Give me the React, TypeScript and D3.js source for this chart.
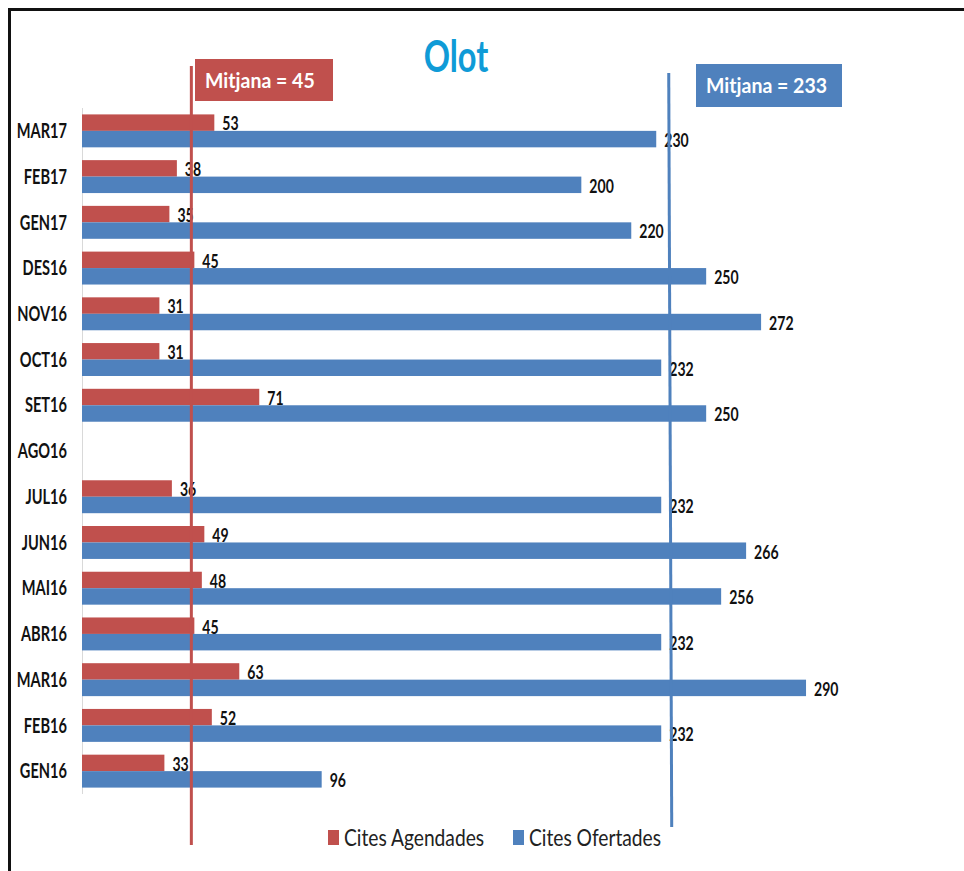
import React, { useEffect, useRef } from 'react';
import * as d3 from 'd3';

const categories = ['MAR17', 'FEB17', 'GEN17', 'DES16', 'NOV16', 'OCT16', 'SET16', 'AGO16', 'JUL16', 'JUN16', 'MAI16', 'ABR16', 'MAR16', 'FEB16', 'GEN16'];
const agendades: (number | null)[] = [53, 38, 35, 45, 31, 31, 71, null, 36, 49, 48, 45, 63, 52, 33];
const ofertades: (number | null)[] = [230, 200, 220, 250, 272, 232, 250, null, 232, 266, 256, 232, 290, 232, 96];
const seriesNames = ['Cites Agendades', 'Cites Ofertades'];
const meanValues = [45, 233];

const RED = '#C0504D';
const BLUE = '#4F81BD';
const FONT = 'Lato, "Open Sans", sans-serif';

const W = 964;
const H = 871;

type Sel = d3.Selection<any, unknown, null, undefined>;

// text squeezed horizontally, the original uses a narrow font
const addText = (
  parent: Sel, x: number, y: number, txt: string,
  opts: { size: number; weight?: number; fill?: string; anchor?: string; sx?: number; dy?: string }
) => {
  return parent.append('text')
    .attr('transform', `translate(${x},${y}) scale(${opts.sx ?? 0.75},1)`)
    .attr('dy', opts.dy ?? '0')
    .attr('text-anchor', opts.anchor ?? 'start')
    .style('font-family', FONT)
    .style('font-weight', opts.weight ?? 700)
    .style('font-size', `${opts.size}px`)
    .style('fill', opts.fill ?? '#111')
    .text(txt);
};

const App: React.FC = () => {
  const svgRef = useRef<SVGSVGElement>(null);

  useEffect(() => {
    if (!svgRef.current) return;
    const svg = d3.select(svgRef.current) as unknown as Sel;
    svg.selectAll('*').remove();

    svg.append('rect').attr('width', W).attr('height', H).attr('fill', '#fff');

    // frame (top + left only, as in the cropped original)
    svg.append('line').attr('x1', 8).attr('x2', W).attr('y1', 9.5).attr('y2', 9.5)
      .attr('stroke', '#111').attr('stroke-width', 3);
    svg.append('line').attr('x1', 9.5).attr('x2', 9.5).attr('y1', 8).attr('y2', H)
      .attr('stroke', '#111').attr('stroke-width', 3);

    const x = d3.scaleLinear().domain([0, 300]).range([82, 831]);
    const y = d3.scaleBand<string>()
      .domain(categories)
      .range([108, 794])
      .paddingInner(0.28)
      .paddingOuter(0.14);
    const half = y.bandwidth() / 2;

    // title
    addText(svg, 456, 72, 'Olot', { size: 44, fill: '#0F9BD7', anchor: 'middle', sx: 0.74 });

    // category axis
    svg.append('line')
      .attr('x1', 82.5).attr('x2', 82.5)
      .attr('y1', 108).attr('y2', 794)
      .attr('stroke', '#D9D9D9').attr('stroke-width', 1);

    const catG = svg.append('g');
    categories.forEach(c => {
      addText(catG, 67, (y(c) || 0) + half, c, { size: 20, anchor: 'end', dy: '0.36em', sx: 0.73 });
    });

    const series = [
      { values: agendades, color: RED, offset: 0 },
      { values: ofertades, color: BLUE, offset: half },
    ];

    series.forEach(s => {
      const rows = categories
        .map((c, i) => ({ c, v: s.values[i] }))
        .filter(d => d.v !== null) as { c: string; v: number }[];

      svg.append('g').selectAll('rect')
        .data(rows)
        .enter()
        .append('rect')
        .attr('x', x(0))
        .attr('y', d => (y(d.c) || 0) + s.offset)
        .attr('width', d => x(d.v) - x(0))
        .attr('height', half)
        .attr('fill', s.color);

      const lblG = svg.append('g');
      rows.forEach(d => {
        addText(lblG, x(d.v) + 8, (y(d.c) || 0) + s.offset + half / 2 + 1, String(d.v),
          { size: 19, dy: '0.36em', sx: 0.74 });
      });
    });

    // mean lines + boxes
    const means = [
      { value: meanValues[0], color: RED, dx: -3, y1: 66, y2: 845, tilt: 0, box: { x: 195, y: 59, w: 138, h: 42 } },
      { value: meanValues[1], color: BLUE, dx: 5, y1: 73, y2: 827, tilt: 3, box: { x: 696, y: 64, w: 146, h: 43 } },
    ];
    means.forEach(m => {
      const mx = x(m.value) + m.dx;
      svg.append('line')
        .attr('x1', mx).attr('x2', mx + m.tilt)
        .attr('y1', m.y1).attr('y2', m.y2)
        .attr('stroke', m.color).attr('stroke-width', 3);
      svg.append('rect')
        .attr('x', m.box.x).attr('y', m.box.y)
        .attr('width', m.box.w).attr('height', m.box.h)
        .attr('fill', m.color);
      addText(svg, m.box.x + 10, m.box.y + m.box.h / 2, `Mitjana = ${m.value}`,
        { size: 21, fill: '#fff', dy: '0.36em', sx: 0.93 });
    });

    // legend
    const legend = [
      { name: seriesNames[0], color: RED, x: 328 },
      { name: seriesNames[1], color: BLUE, x: 513 },
    ];
    legend.forEach(l => {
      svg.append('rect')
        .attr('x', l.x).attr('y', 830)
        .attr('width', 11).attr('height', 15)
        .attr('fill', l.color);
      addText(svg, l.x + 16, 846, l.name, { size: 24, weight: 400, fill: '#222', sx: 0.8 });
    });
  }, []);

  return (
    <svg
      ref={svgRef}
      width={W}
      height={H}
      style={{ position: 'absolute', left: 0, top: 0, display: 'block' }}
    />
  );
};

export default App;
